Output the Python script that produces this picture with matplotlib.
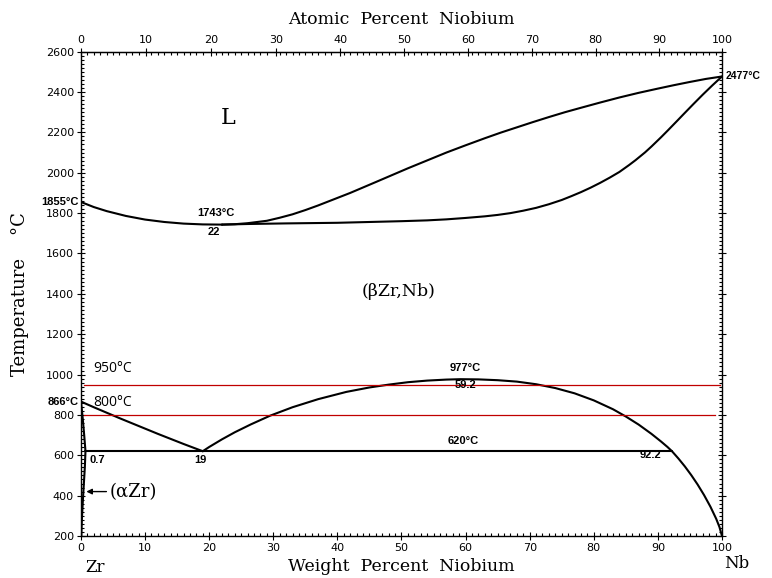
import numpy as np
import matplotlib
matplotlib.use("Agg")
import matplotlib.pyplot as plt
from matplotlib.ticker import MultipleLocator, FixedLocator

# Zr-Nb phase diagram (weight % Nb vs temperature)
liq_left_wt = [0, 2, 4, 7, 10, 13, 16, 19, 22]
liq_left_t = [1855, 1830, 1810, 1786, 1768, 1756, 1748, 1744, 1743]

liquidus_wt = [22, 24, 26, 29, 31, 33, 35, 37, 39.5, 42, 44, 46, 48.5, 51, 54, 57,
               60, 63, 65.5, 68, 70.5, 73, 75.5, 78, 81, 84, 87, 90, 92.5, 95, 97.5, 100]
liquidus_t = [1743, 1745, 1750, 1762, 1777, 1794, 1815, 1838, 1869, 1900, 1927,
              1954, 1988, 2022, 2061, 2100, 2136, 2171, 2199, 2225, 2251, 2276,
              2300, 2322, 2348, 2373, 2396, 2417, 2434, 2450, 2465, 2477]

solidus_wt = [22, 26, 32, 40, 50, 54, 57, 60, 63, 65, 67, 69, 71, 73, 75, 76.5, 78,
              79.5, 81, 82.5, 84, 85.5, 86.5, 88, 89, 90.5, 91.5, 93, 94, 95.5, 97,
              98.5, 100]
solidus_t = [1743, 1746, 1749, 1752, 1760, 1764, 1769, 1776, 1784, 1791, 1800,
             1812, 1826, 1844, 1865, 1884, 1904, 1926, 1950, 1976, 2004, 2038,
             2062, 2101, 2130, 2176, 2208, 2257, 2290, 2339, 2387, 2433, 2477]

beta_left_wt = [0, 2, 4, 6, 8, 10, 12, 14, 16, 17.5, 19]
beta_left_t = [866, 838, 811, 784, 758, 732, 706, 681, 656, 638, 620]

dome_wt = [19, 20, 22, 24, 26.5, 29.5, 33, 37, 41.4, 45, 48, 51, 54, 57, 59.2, 62,
           65, 68, 71, 74, 77, 80, 83, 85, 87, 89, 90.5, 91.5, 92.2, 93.2, 94.2,
           95.2, 96.2, 97.2, 98.2, 99.1, 99.6, 100]
dome_t = [620, 641, 679, 714, 753, 796, 838, 878, 914, 936, 950, 962, 970, 975,
          977, 976, 972, 965, 952, 933, 907, 872, 828, 792, 752, 706, 668, 641,
          620, 584, 545, 502, 455, 403, 345, 285, 245, 200]

alpha_wt = [0, 0.25, 0.5, 0.7, 0.6, 0.45, 0.3, 0.15, 0.05]
alpha_t = [866, 790, 700, 620, 540, 460, 380, 290, 200]

mono_wt = [0.7, 92.2]
mono_t = [620, 620]

red_lines = [950, 800]
red_ends = [99.7, 98.9]

M_NB, M_ZR = 92.906, 91.224


def wt_to_at(w):
    w = np.asarray(w, dtype=float)
    a = w / M_NB
    b = (100 - w) / M_ZR
    return 100 * a / np.where(a + b == 0, 1, a + b)


def at_to_wt(x):
    x = np.asarray(x, dtype=float)
    a = x * M_NB
    b = (100 - x) * M_ZR
    return 100 * a / np.where(a + b == 0, 1, a + b)


fig = plt.figure(figsize=(7.72, 5.78), dpi=100)
ax = fig.add_axes([0.1049, 0.0727, 0.8303, 0.8379])

lk = dict(color="black", lw=1.5, solid_capstyle="round", solid_joinstyle="round")
ax.plot(liq_left_wt, liq_left_t, **lk)
ax.plot(liquidus_wt, liquidus_t, **lk)
ax.plot(solidus_wt, solidus_t, **lk)
ax.plot(beta_left_wt, beta_left_t, **lk)
ax.plot(dome_wt, dome_t, **lk)
ax.plot(alpha_wt, alpha_t, **lk)
ax.plot(mono_wt, mono_t, **lk)

for t, end in zip(red_lines, red_ends):
    ax.plot([0.4, end], [t, t], color="#c00000", lw=0.9)

ax.set_xlim(0, 100)
ax.set_ylim(200, 2600)
ax.xaxis.set_major_locator(MultipleLocator(10))
ax.xaxis.set_minor_locator(MultipleLocator(1))
ax.yaxis.set_major_locator(MultipleLocator(200))
ax.yaxis.set_minor_locator(MultipleLocator(20))
ax.tick_params(which="major", direction="inout", length=6, width=0.8,
               labelsize=8, right=True, top=False)
ax.tick_params(which="minor", direction="in", length=2, width=0.8,
               right=True, top=True)
ax.tick_params(axis="x", pad=2)
ax.tick_params(axis="y", pad=2)

top = ax.secondary_xaxis("top", functions=(wt_to_at, at_to_wt))
top.xaxis.set_major_locator(FixedLocator(list(range(0, 101, 10))))
top.tick_params(which="major", direction="inout", length=6, width=0.8,
                labelsize=8, pad=2)
top.set_xlabel("Atomic  Percent  Niobium", family="DejaVu Serif", fontsize=12.5,
               labelpad=8)

for s in ax.spines.values():
    s.set_linewidth(1.0)
    s.set_linestyle((0, (3, 1)))

ax.set_xlabel("Weight  Percent  Niobium", family="DejaVu Serif", fontsize=12.5,
              labelpad=4)
ax.set_ylabel("Temperature    °C", family="DejaVu Serif", fontsize=13,
              labelpad=12)

bold = dict(family="Liberation Sans", fontweight="bold", fontsize=8)
ax.text(-0.3, 1855, "1855°C", ha="right", va="center", **bold)
ax.text(-0.3, 866, "866°C", ha="right", va="center", **bold)
ax.text(100.6, 2477, "2477°C", ha="left", va="center", family="Liberation Sans",
        fontweight="bold", fontsize=7.5)
ax.text(21, 1800, "1743°C", ha="center", va="center", **bold)
ax.text(20.7, 1706, "22", ha="center", va="center", **bold)
ax.text(59.9, 1031, "977°C", ha="center", va="center", **bold)
ax.text(60, 948, "59.2", ha="center", va="center", **bold)
ax.text(59.6, 673, "620°C", ha="center", va="center", **bold)
ax.text(88.8, 600, "92.2", ha="center", va="center", **bold)
ax.text(1.4, 575, "0.7", ha="left", va="center", **bold)
ax.text(18.6, 575, "19", ha="center", va="center", **bold)

ax.text(1.9, 1031, "950°C", ha="left", va="center", family="Open Sans",
        fontsize=10)
ax.text(1.9, 860, "800°C", ha="left", va="center", family="Open Sans",
        fontsize=10)

ax.text(22.9, 2271, "L", ha="center", va="center", family="DejaVu Serif",
        fontsize=16)
ax.text(49.5, 1414, "(βZr,Nb)", ha="center", va="center",
        family="DejaVu Serif", fontsize=12.5)

ax.annotate("", xy=(0.4, 420), xytext=(4.4, 420),
            arrowprops=dict(arrowstyle="-|>", color="black", lw=1.0,
                            mutation_scale=8))
ax.text(4.5, 420, "(αZr)", ha="left", va="center", family="DejaVu Serif",
        fontsize=13)

fig.text(95 / 772, 1 - 568 / 578, "Zr", ha="center", va="center",
         family="DejaVu Serif", fontsize=12)
fig.text(737 / 772, 1 - 563 / 578, "Nb", ha="center", va="center",
         family="DejaVu Serif", fontsize=12)

fig.savefig("out.png", dpi=100)
